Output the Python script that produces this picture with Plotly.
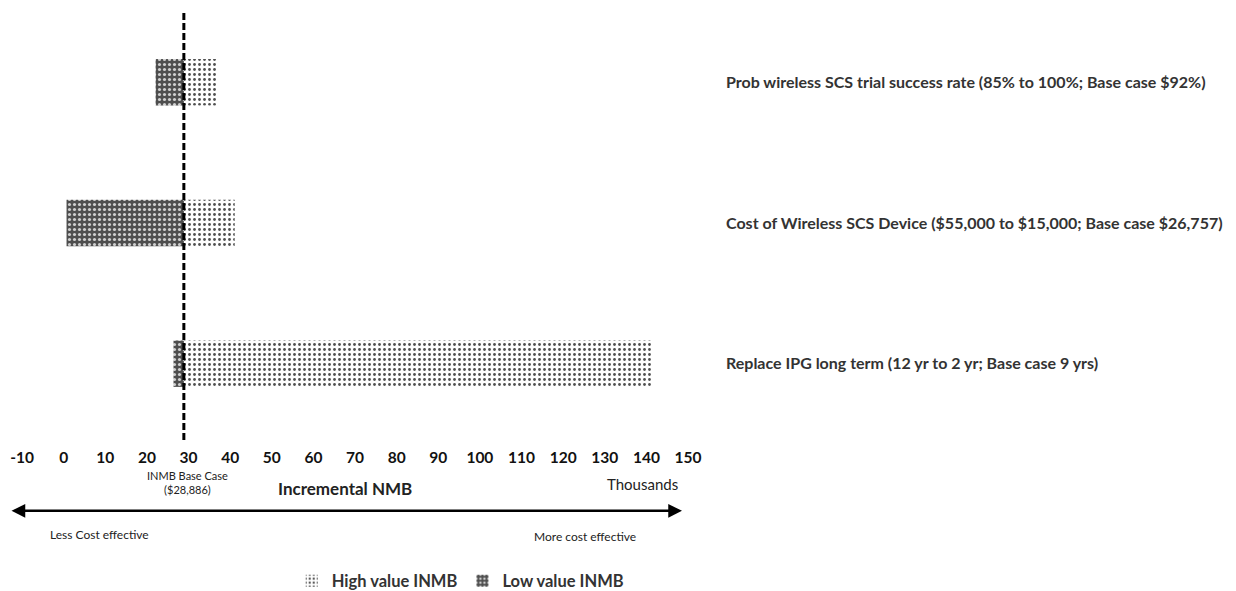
import plotly.graph_objects as go

# Tornado diagram: incremental net monetary benefit (thousands of dollars)
parameters = [
    "Prob wireless SCS trial success rate (85% to 100%; Base case $92%)",
    "Cost of Wireless SCS Device ($55,000 to $15,000; Base case $26,757)",
    "Replace IPG long term (12 yr to 2 yr; Base case 9 yrs)",
]
low_inmb = [22.1, 0.7, 26.4]
high_inmb = [37.0, 41.1, 141.1]
BASE_CASE = 28.886

x_ticks = list(range(-10, 151, 10))

FONT = "Lato, 'Open Sans', sans-serif"

fig = go.Figure()

fig.add_trace(go.Bar(
    name="High value INMB",
    y=parameters,
    x=[h - BASE_CASE for h in high_inmb],
    base=BASE_CASE,
    orientation="h",
    width=0.33,
    marker=dict(
        color="white",
        line=dict(width=0),
        pattern=dict(shape=".", fgcolor="#505050", bgcolor="#ffffff",
                     size=5, solidity=0.25, fillmode="replace"),
    ),
))

fig.add_trace(go.Bar(
    name="Low value INMB",
    y=parameters,
    x=[l - BASE_CASE for l in low_inmb],
    base=BASE_CASE,
    orientation="h",
    width=0.33,
    marker=dict(
        color="#5a5a5a",
        line=dict(width=0),
        pattern=dict(shape=".", fgcolor="#cfcfcf", bgcolor="#4e4e4e",
                     size=5, solidity=0.3, fillmode="replace"),
    ),
))

# base-case reference line
fig.add_shape(
    type="line", xref="x", yref="paper",
    x0=BASE_CASE, x1=BASE_CASE, y0=-0.014, y1=1.005,
    line=dict(color="black", width=3, dash="7px,3px"),
)

annotations = [
    dict(text="INMB Base Case<br>($28,886)", x=0.249, y=-0.116,
         font=dict(size=11, color="#222")),
    dict(text="<b>Incremental NMB</b>", x=0.485, y=-0.13,
         font=dict(size=17, color="#222")),
    dict(text="Thousands", x=0.932, y=-0.118,
         font=dict(size=15, color="#222")),
    dict(text="Less Cost effective", x=0.117, y=-0.237,
         font=dict(size=12, color="#222")),
    dict(text="More cost effective", x=0.845, y=-0.242,
         font=dict(size=12, color="#222")),
]
for a in annotations:
    fig.add_annotation(xref="paper", yref="paper", showarrow=False,
                       xanchor="center", yanchor="middle", **a)

# double-headed direction arrow
fig.add_annotation(
    xref="paper", yref="paper", x=0.991, y=-0.182,
    axref="pixel", ayref="pixel", ax=-672, ay=0,
    text="", showarrow=True, arrowside="end+start",
    arrowhead=2, arrowsize=1.1, arrowwidth=2.5, arrowcolor="black",
)

fig.update_layout(
    width=1236, height=591,
    margin=dict(l=22, r=548, t=12, b=157, autoexpand=False),
    paper_bgcolor="white", plot_bgcolor="white",
    barmode="overlay",
    font=dict(family=FONT, color="#222"),
    showlegend=True,
    legend=dict(
        orientation="h", x=0.405, xanchor="left",
        yref="container", y=0.017, yanchor="middle",
        font=dict(size=16.5, color="#333", weight="bold"),
        itemwidth=30,
    ),
    xaxis=dict(
        range=[-10, 150], tickmode="array", tickvals=x_ticks,
        ticktext=[str(v) for v in x_ticks],
        showgrid=False, zeroline=False, showline=False, ticks="",
        tickfont=dict(size=15.5, color="#111", weight="bold"),
        ticklabelstandoff=12, automargin=False,
    ),
    yaxis=dict(
        type="category", autorange="reversed", side="right",
        showgrid=False, zeroline=False, showline=False, ticks="",
        tickfont=dict(size=16, color="#333", weight="bold"),
        ticklabelstandoff=37, automargin=False,
    ),
)

fig.write_html("out.html")
